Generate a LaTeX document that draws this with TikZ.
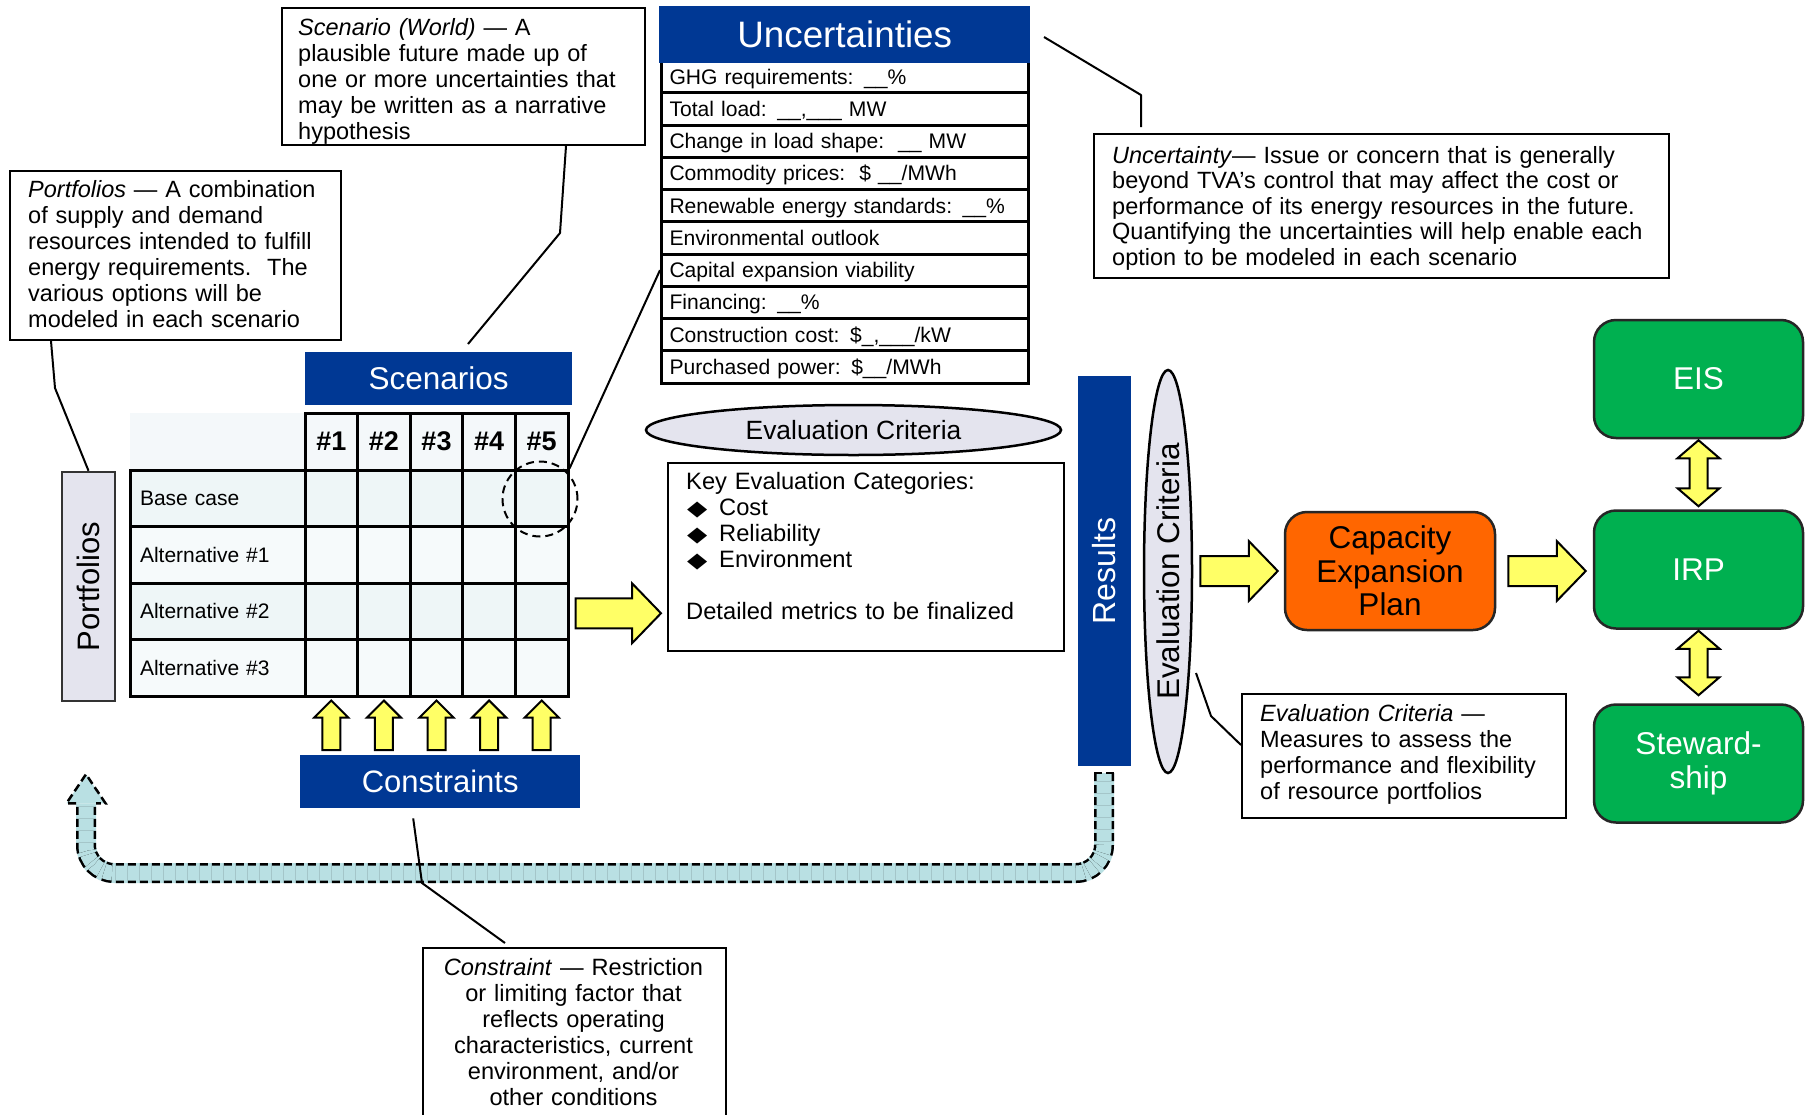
\documentclass[tikz,border=0pt]{standalone}
\usepackage{fontspec}
\setmainfont{Liberation Sans}
\newfontfamily\symfont{DejaVu Sans}
\usepackage{graphicx}
\usetikzlibrary{calc,shapes.geometric}

\definecolor{navy}{HTML}{003894}
\definecolor{capOrange}{HTML}{FF6600}
\definecolor{planGreen}{HTML}{00B050}
\definecolor{arrowYellow}{HTML}{FFFF66}
\definecolor{lavender}{HTML}{E4E4EE}
\definecolor{loopBlue}{HTML}{B9E0E3}
\definecolor{rowA}{HTML}{EEF6F7}
\definecolor{rowB}{HTML}{F6FAFB}
\definecolor{headFill}{HTML}{F4F8FA}

\newcommand\setfs[2]{\fontsize{#1}{#2}\selectfont}
\newcommand\bul{\makebox[33pt][l]{\hspace{1pt}\scalebox{1.25}[1]{\symfont\setfs{21}{21}◆}}}

% horizontal block arrow: tail, tip, shaft half width, head half width, head length
\newcommand\hblock[5]{\draw[blockarrow] let \p1=(#1), \p2=(#2) in
  (\x1,\y1+#3) -- (\x2-#5,\y1+#3) -- (\x2-#5,\y1+#4) -- (\x2,\y1)
  -- (\x2-#5,\y1-#4) -- (\x2-#5,\y1-#3) -- (\x1,\y1-#3) -- cycle;}
% upward block arrow: tail (bottom), tip (top)
\newcommand\ublock[5]{\draw[blockarrow] let \p1=(#1), \p2=(#2) in
  (\x1-#3,\y1) -- (\x1-#3,\y2-#5) -- (\x1-#4,\y2-#5) -- (\x1,\y2)
  -- (\x1+#4,\y2-#5) -- (\x1+#3,\y2-#5) -- (\x1+#3,\y1) -- cycle;}
% vertical double-headed block arrow: top tip, bottom tip
\newcommand\vdblock[5]{\draw[blockarrow] let \p1=(#1), \p2=(#2) in
  (\x1,\y1) -- (\x1+#4,\y1-#5) -- (\x1+#3,\y1-#5) -- (\x1+#3,\y2+#5)
  -- (\x1+#4,\y2+#5) -- (\x1,\y2) -- (\x1-#4,\y2+#5) -- (\x1-#3,\y2+#5)
  -- (\x1-#3,\y1-#5) -- (\x1-#4,\y1-#5) -- cycle;}

\begin{document}
\begin{tikzpicture}[x=1pt,y=-1pt,
  defbox/.style={draw, line width=2pt, anchor=north west, inner sep=0pt, fill=white},
  deftext/.style={inner sep=0pt, anchor=base west, align=left, text width=#1, font=\setfs{23.5}{26}},
  callout/.style={line width=2pt, line join=round},
  navybar/.style={fill=navy, text=white, inner sep=0pt},
  blockarrow/.style={fill=arrowYellow, draw=black, line width=2pt, line join=miter},
  urow/.style={draw, line width=3pt, anchor=north west, minimum height=32.25pt, inner xsep=8pt,
    inner ysep=0pt, text width=351pt, align=left, font=\setfs{21.1}{23}, text height=15.2pt, text depth=0pt},
  cell/.style={draw, line width=3pt, minimum width=52.6pt, minimum height=56.5pt, inner sep=0pt},
  hcell/.style={cell, fill=headFill, minimum height=57pt, font=\setfs{27}{29}\bfseries},
  rowlab/.style={draw, line width=3pt, minimum height=56.5pt, inner xsep=10pt, inner ysep=0pt,
    text width=155pt, align=left, font=\setfs{21}{23}},
  greenbox/.style={rounded corners=22pt, fill=planGreen, draw=black!85, line width=2.5pt,
    text=white, font=\setfs{31.5}{33.5}, align=center, minimum width=209pt,
    minimum height=118pt, inner sep=0pt},
  loopdash/.style={dash pattern=on 8pt off 4pt}
]
\useasboundingbox (0,0) rectangle (1812,1114);
\clip (0,0) rectangle (1812,1114);
\fill[white] (0,0) rectangle (1812,1114);

% ---------- portfolio / scenario grid ----------
\fill[headFill] (130,413) rectangle (305,470);
\foreach \c in {1,...,5}
  \node[hcell] (h\c) at ({305+52.6*(\c-0.5)},441.5) {\#\c};
\foreach \r/\lab/\rowfill in {1/Base case/rowA,2/Alternative \#1/rowB,3/Alternative \#2/rowA,4/Alternative \#3/rowB}{
  \node[rowlab, fill=\rowfill] (lab\r) at (217.5,{470+56.5*(\r-0.5)}) {\lab};
  \foreach \c in {1,...,5}
    \node[cell, fill=\rowfill] (cell-\r-\c) at ({305+52.6*(\c-0.5)},{470+56.5*(\r-0.5)}) {};
}
\node[circle, draw, line width=2pt, dash pattern=on 8pt off 5pt, minimum size=75pt, inner sep=0pt] (circ) at (540,499) {};

\node[navybar, anchor=north west, minimum width=267pt, minimum height=53pt, font=\setfs{31.5}{33}] (scenhead) at (305,352) {Scenarios};
\node[navybar, anchor=north west, minimum width=280pt, minimum height=53pt, font=\setfs{31}{33}] (cons) at (300,755) {Constraints};
\node[draw=black!80, line width=2.5pt, fill=lavender, minimum width=53pt, minimum height=229pt, inner sep=0pt, font=\setfs{31}{33}] (port) at (88.5,586.5) {\rotatebox{90}{Portfolios}};

% ---------- feedback loop ----------
\coordinate (loopY) at (0,873);
\coordinate (loopTop) at ($(1104,766)+(0,7)$);
\coordinate (loopL) at ($(port.south)+(-2.5,0)$);
\coordinate (loopHead) at ($(port.south)+(-2.5,101)$);
\coordinate (loopTip) at ($(port.south)+(-2.5,72)$);
\draw[line width=20pt, loopBlue, rounded corners=28pt] (loopTop) -- (loopTop |- loopY) -- (loopL |- loopY) -- (loopHead);
\draw[line width=2.5pt, double=loopBlue, double distance=15pt, loopdash, rounded corners=28pt] (loopTop) -- (loopTop |- loopY) -- (loopL |- loopY) -- (loopHead);
\fill[loopBlue] ($(loopHead)+(-19.5,0)$) -- (loopTip) -- ($(loopHead)+(19.5,0)$) -- cycle;
\draw[line width=2.5pt, loopdash, line join=miter] ($(loopHead)+(-10,0)$) -- ($(loopHead)+(-19.5,0)$) -- (loopTip) -- ($(loopHead)+(19.5,0)$) -- ($(loopHead)+(10,0)$);
\draw[line width=2.5pt, loopdash] ($(loopTop)+(-10,0)$) -- ($(loopTop)+(10,0)$);

% ---------- uncertainties list ----------
\node[urow] (u1) at (660,59) {GHG requirements: \_\_\%};
\node[urow] (u2) at (660,91.25) {Total load: \_\_,\_\_\_ MW};
\node[urow] (u3) at (660,123.5) {Change in load shape:\ \ \_\_ MW};
\node[urow] (u4) at (660,155.75) {Commodity prices:\ \ \$ \_\_/MWh};
\node[urow] (u5) at (660,188) {Renewable energy standards: \_\_\%};
\node[urow] (u6) at (660,220.25) {Environmental outlook};
\node[urow] (u7) at (660,252.5) {Capital expansion viability};
\node[urow] (u8) at (660,284.75) {Financing: \_\_\%};
\node[urow] (u9) at (660,317) {Construction cost: \$\_,\_\_\_/kW};
\node[urow] (u10) at (660,349.25) {Purchased power: \$\_\_/MWh};
\node[navybar, anchor=north west, minimum width=371pt, minimum height=57pt, font=\setfs{36.8}{38}] (unchead) at (659,6) {Uncertainties};

% ---------- evaluation ----------
\node[ellipse, draw, line width=2.5pt, fill=lavender, minimum width=415pt, minimum height=50pt, inner sep=0pt, font=\setfs{26.4}{28}] (evalh) at (853.5,430) {Evaluation Criteria};
\node[defbox, minimum width=396pt, minimum height=188pt] (key) at (667,462) {};
\node[deftext=370pt, font=\setfs{23.7}{26}] (keyTxt) at (686,489) {Key Evaluation Categories:\\\bul Cost\\\bul Reliability\\\bul Environment\\[26pt]Detailed metrics to be finalized};
\node[navybar, minimum width=53pt, minimum height=390pt, font=\setfs{32}{34}] (results) at (1104.5,571) {\rotatebox{90}{Results}};
\node[ellipse, draw, line width=2.5pt, fill=lavender, minimum width=48pt, minimum height=403pt, inner sep=0pt, font=\setfs{31.4}{33}] (evalv) at (1168,571.5) {\rotatebox{90}{Evaluation Criteria}};

% ---------- plans ----------
\node[greenbox, fill=capOrange, text=black, minimum width=210pt] (cap) at (1390,571) {Capacity\\Expansion\\Plan};
\node[greenbox] (eis) at (1698.5,379) {EIS};
\node[greenbox] (irp) at (1698.5,569.5) {IRP};
\node[greenbox] (stew) at (1698.5,763.5) {Steward-\\ship};

% ---------- block arrows ----------
\foreach \c in {1,...,5}{
  \ublock{$(cell-4-\c.south |- cons.north)+(0,-5)$}{$(cell-4-\c.south)+(0,3)$}{9}{17}{17}
}
\hblock{$(cell-3-5.east)+(6,2)$}{$(key.west)+(-6,0)$}{15}{30}{29}
\hblock{$(evalv.east |- cap.west)+(7,0)$}{$(cap.west)+(-6,0)$}{15}{30}{29}
\hblock{$(cap.east)+(12,0)$}{$(irp.west)+(-7,0)$}{15}{30}{29}
\vdblock{$(eis.south)+(0,1)$}{$(irp.north)+(0,-3)$}{9}{21}{18}
\vdblock{$(irp.south)+(0,1)$}{$(stew.north)+(0,-8)$}{9}{21}{18}

% ---------- definitions ----------
\node[defbox, minimum width=363pt, minimum height=137pt] (defScen) at (281,7) {};
\node[deftext=345pt] (defScenTxt) at (298,35) {\textit{Scenario (World)} — A\\plausible future made up of\\one or more uncertainties that\\may be written as a narrative\\hypothesis};

\node[defbox, minimum width=331pt, minimum height=169pt] (defPort) at (9,170) {};
\node[deftext=310pt] (defPortTxt) at (28,197) {\textit{Portfolios} — A combination\\of supply and demand\\resources intended to fulfill\\energy requirements.\ \ The\\various options will be\\modeled in each scenario};

\node[defbox, minimum width=575pt, minimum height=144pt] (defUnc) at (1093,133) {};
\node[deftext=555pt, font=\setfs{23.5}{25.6}] (defUncTxt) at (1112,163) {\textit{Uncertainty}— Issue or concern that is generally\\beyond TVA’s control that may affect the cost or\\performance of its energy resources in the future.\\Quantifying the uncertainties will help enable each\\option to be modeled in each scenario};

\node[defbox, minimum width=324pt, minimum height=124pt] (defEval) at (1241,693) {};
\node[deftext=300pt] (defEvalTxt) at (1260,721) {\textit{Evaluation Criteria} —\\Measures to assess the\\performance and flexibility\\of resource portfolios};

\node[defbox, minimum width=303pt, minimum height=190pt] (defCons) at (422,947) {};
\node[inner sep=0pt, anchor=base, align=center, text width=290pt, font=\setfs{23.6}{26}] (defConsTxt) at (573.5,975) {\textit{Constraint} — Restriction\\or limiting factor that\\reflects operating\\characteristics, current\\environment, and/or\\other conditions};

% ---------- callout lines ----------
\coordinate (scenBend) at (560,233);
\coordinate (scenEnd) at (468,344);
\draw[callout] ($(defScen.south east)+(-80,0)$) -- (scenBend) -- (scenEnd);
\coordinate (portBend) at (55,388);
\draw[callout] ($(defPort.south west)+(42,0)$) -- (portBend) -- (port.north);
\coordinate (uncStart) at (1044,37);
\coordinate (uncBend) at (1141,95);
\draw[callout] (uncStart) -- (uncBend) -- ($(defUnc.north west)+(48,-6)$);
\draw[callout] (cell-1-5.north east) -- (u7.west);
\coordinate (consBend) at (422,883);
\draw[callout] ($(cons.south)+(-27,10)$) -- (consBend) -- ($(defCons.north west)+(83,-4)$);
\coordinate (evalStart) at (1196,673);
\coordinate (evalBend) at (1211,716);
\draw[callout] (evalStart) -- (evalBend) -- ($(defEval.north west)+(0,52)$);
\end{tikzpicture}
\end{document}
